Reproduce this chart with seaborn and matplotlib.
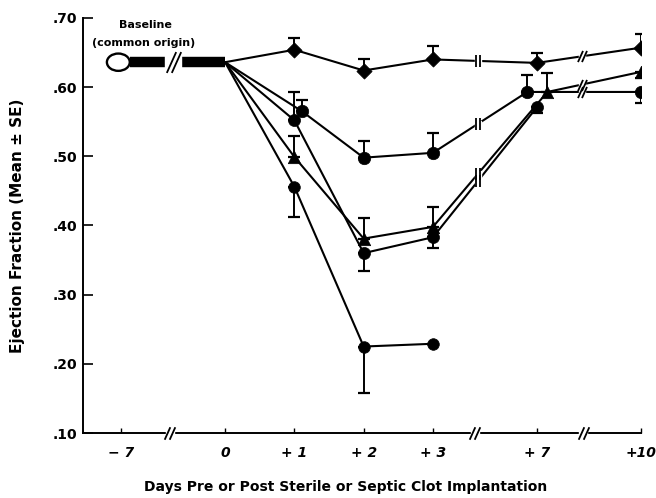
import numpy as np
import pandas as pd
import matplotlib
matplotlib.use('Agg')
import matplotlib.pyplot as plt
from matplotlib.patches import Ellipse
import seaborn as sns

# Data (ejection fraction, mean and signed SE: + drawn up, - drawn down)
days = [0, 1, 2, 3, 7, 10]
tick_days = [-7, 0, 1, 2, 3, 7, 10]
tick_labels = ['\u2212 7', '0', '+ 1', '+ 2', '+ 3', '+ 7', '+10']
baseline_ef = 0.636

sham_ef = [0.636, 0.654, 0.624, 0.640, 0.635, 0.657]
sham_se = [0, 0.017, 0.017, 0.020, 0.014, 0.020]

groupb_ef = [0.636, 0.565, 0.498, 0.505, 0.593, 0.593]
groupb_se = [0, 0.017, 0.024, 0.029, 0.025, -0.016]

groupc_ef = [0.636, 0.499, 0.381, 0.398, 0.593, 0.622]
groupc_se = [0, 0.030, 0.030, 0.029, 0.028, -0.009]

groupd_days = [0, 1, 2, 3, 7]
groupd_ef = [0.636, 0.552, 0.360, 0.383, 0.571]
groupd_se = [0, 0.041, -0.026, -0.016, -0.008]

groupe_days = [0, 1, 2, 3]
groupe_ef = [0.636, 0.456, 0.225, 0.229]
groupe_se = [0, -0.044, -0.067, 0]

# broken x axis: map days to plot positions
pos = {-7: -1.5, 0: 0, 1: 1, 2: 2, 3: 3, 7: 4.5, 10: 6}
# small sideways nudges where markers crowd
nudge = {'B': {1: 0.11, 7: -0.14}, 'C': {7: 0.15}}
markers = {'A': 'D', 'B': 'o', 'C': '^', 'D': 'o', 'E': 'o'}
msize = {'A': 60, 'B': 80, 'C': 80, 'D': 75, 'E': 70}

rows = []
for name, dd, ef, se in [('A', days, sham_ef, sham_se), ('B', days, groupb_ef, groupb_se),
                         ('C', days, groupc_ef, groupc_se), ('D', groupd_days, groupd_ef, groupd_se),
                         ('E', groupe_days, groupe_ef, groupe_se)]:
    for d, m, s in zip(dd, ef, se):
        rows.append({'group': name, 'day': d, 'x': pos[d] + nudge.get(name, {}).get(d, 0),
                     'ef': m, 'se': s})
df = pd.DataFrame(rows)

sns.set_style('ticks')
plt.rcParams['font.family'] = ['DejaVu Sans']
plt.rcParams['font.weight'] = 'bold'
for key in ['text.color', 'axes.labelcolor', 'xtick.color', 'ytick.color']:
    plt.rcParams[key] = 'black'

fig = plt.figure(figsize=(6.56, 4.98), dpi=100)
ax = fig.add_axes([0.1265, 0.1305, 0.8505, 0.8335])

black = {g: 'black' for g in markers}
sns.lineplot(data=df, x='x', y='ef', hue='group', units='group', estimator=None,
             palette=black, lw=1.5, legend=False, sort=False, ax=ax, zorder=3)

pts = df[df['day'] != 0]
for g, sub in pts.groupby('group'):
    lo = np.clip(-sub['se'].values, 0, None)
    hi = np.clip(sub['se'].values, 0, None)
    ax.errorbar(sub['x'], sub['ef'], yerr=[lo, hi], fmt='none', ecolor='black',
                elinewidth=1.4, capsize=4, capthick=1.6, zorder=2)
    sns.scatterplot(data=sub, x='x', y='ef', marker=markers[g], s=msize[g], color='black',
                    edgecolor='black', linewidth=0.5, legend=False, ax=ax, zorder=4)

# baseline: open ellipse at day -7 and a thick bar to day 0
ax.add_patch(Ellipse((pos[-7] - 0.04, baseline_ef), 0.33, 0.025, facecolor='white',
                     edgecolor='black', lw=1.7, zorder=5))
ax.plot([pos[-7] + 0.13, pos[0]], [baseline_ef, baseline_ef], color='black', lw=7.5,
        solid_capstyle='butt', zorder=4)
ax.text(-1.15, 0.690, 'Baseline', ha='center', va='center', fontsize=8, fontweight='bold')
ax.text(-1.17, 0.664, '(common origin)', ha='center', va='center', fontsize=8, fontweight='bold')


def break_mark(x, y, slant=True, size=9, gap=6, clip=True):
    verts = [(-0.45, -1), (0.45, 1)] if slant else [(0, -1), (0, 1)]
    ax.plot([x], [y], marker='s', ms=gap, mfc='white', mec='white', zorder=6, clip_on=clip)
    for dx in (-0.035, 0.035):
        ax.plot([x + dx], [y], marker=verts, ms=size, color='black', mew=1.3,
                zorder=7, clip_on=clip)


# break marks on the axis and the bar
for bx in [-0.8, 3.6, 5.17]:
    break_mark(bx, 0.10, slant=True, size=9, gap=6, clip=False)
break_mark(-0.75, baseline_ef, slant=True, size=15, gap=11)

# break marks on the lines
for g in ['A', 'B', 'C', 'D']:
    sub = df[df['group'] == g].sort_values('x')
    if sub['day'].max() >= 7:
        yb = np.interp(3.65, sub['x'], sub['ef'])
        break_mark(3.65, yb, slant=False, size=8, gap=5)
    if sub['day'].max() >= 10:
        yb = np.interp(5.15, sub['x'], sub['ef'])
        break_mark(5.15, yb, slant=True, size=8, gap=5)

ax.set_xlim(-2.05, 6.0)
ax.set_ylim(0.10, 0.70)
ax.set_xticks([pos[d] for d in tick_days])
ax.set_xticklabels(tick_labels, fontsize=10, fontweight='bold', fontstyle='italic')
yt = [0.10, 0.20, 0.30, 0.40, 0.50, 0.60, 0.70]
ax.set_yticks(yt)
ax.set_yticklabels(['.%d' % round(v * 100) for v in yt], fontsize=10, fontweight='bold')
ax.tick_params(axis='y', direction='in', length=7, width=1.2, pad=4)
ax.tick_params(axis='x', direction='in', length=3.5, width=1.0, pad=9)
sns.despine(ax=ax)
for sp in ['left', 'bottom']:
    ax.spines[sp].set_linewidth(1.4)
    ax.spines[sp].set_color('black')

ax.set_xlabel('Days Pre or Post Sterile or Septic Clot Implantation', fontsize=10,
              fontweight='bold')
ax.xaxis.set_label_coords(0.47, -0.113)
ax.set_ylabel('Ejection Fraction (Mean \u00b1 SE)', fontsize=11, fontweight='bold', labelpad=20)

fig.savefig('out.png', dpi=100, facecolor='white')
